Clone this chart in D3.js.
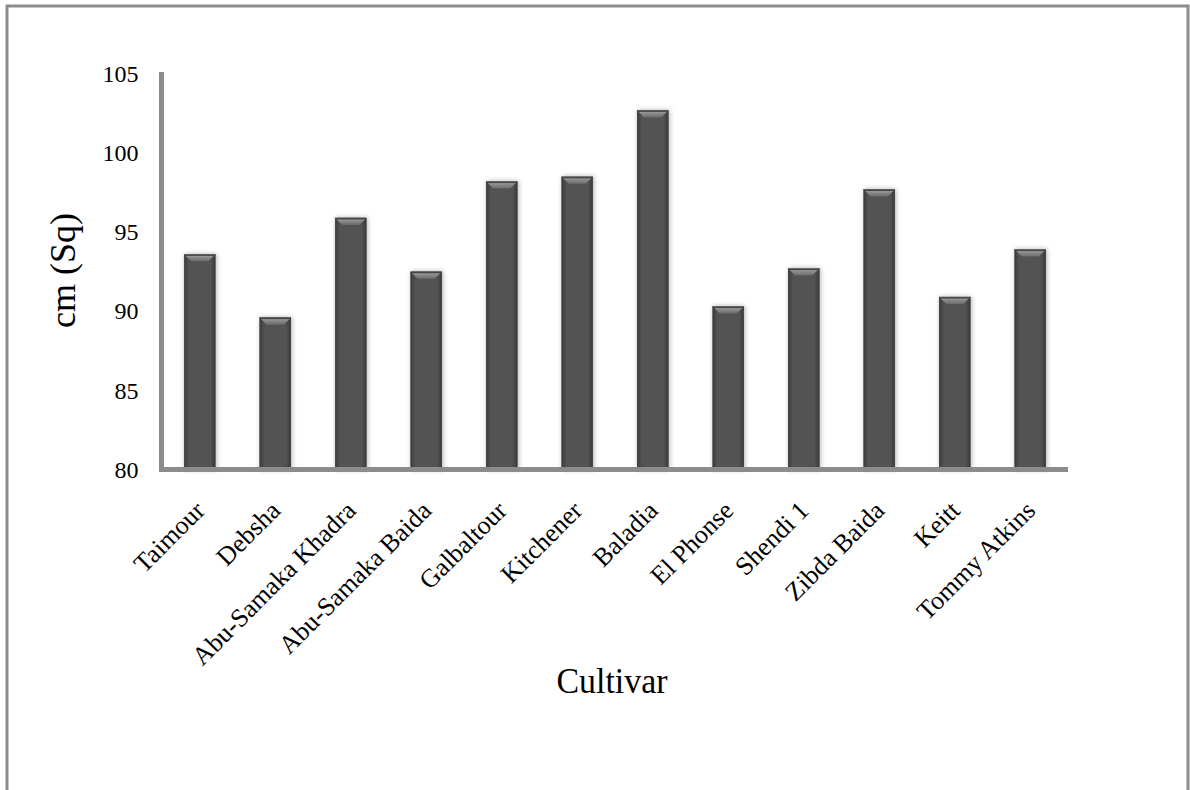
<!DOCTYPE html>
<html>
<head>
<meta charset="utf-8">
<script src="https://cdn.jsdelivr.net/npm/d3@7"></script>
<style>
  body { margin: 0; background: #fff; }
  svg { display: block; }
  text { font-family: "Liberation Serif", "Times New Roman", serif; fill: #000; }
</style>
</head>
<body>
<div id="chart"></div>
<script>
const cultivars = ['Taimour', 'Debsha', 'Abu-Samaka Khadra', 'Abu-Samaka Baida', 'Galbaltour', 'Kitchener',
  'Baladia', 'El Phonse', 'Shendi 1', 'Zibda Baida', 'Keitt', 'Tommy Atkins'];
const areaValues = [93.6, 89.6, 95.9, 92.5, 98.2, 98.5, 102.7, 90.3, 92.7, 97.7, 90.9, 93.9];
const yTicks = [80, 85, 90, 95, 100, 105];

const W = 1190, H = 790;
const svg = d3.select('#chart').append('svg').attr('width', W).attr('height', H);

// outer frame (bottom edge falls outside the picture)
svg.append('rect')
  .attr('x', 7).attr('y', 6).attr('width', 1181).attr('height', 800)
  .attr('fill', 'none').attr('stroke', '#8c8c8c').attr('stroke-width', 3);

const defs = svg.append('defs');
const body = defs.append('linearGradient').attr('id', 'barBody').attr('x1', 0).attr('x2', 1).attr('y1', 0).attr('y2', 0);
body.append('stop').attr('offset', '0%').attr('stop-color', '#3c3c3c');
body.append('stop').attr('offset', '15%').attr('stop-color', '#535353');
body.append('stop').attr('offset', '85%').attr('stop-color', '#535353');
body.append('stop').attr('offset', '100%').attr('stop-color', '#3a3a3a');
const bevel = defs.append('linearGradient').attr('id', 'barBevel').attr('x1', 0).attr('x2', 0).attr('y1', 0).attr('y2', 1);
bevel.append('stop').attr('offset', '0%').attr('stop-color', '#a4a4a4');
bevel.append('stop').attr('offset', '100%').attr('stop-color', '#6a6a6a');
const shadow = defs.append('filter').attr('id', 'shadow').attr('x', '-30%').attr('y', '-10%').attr('width', '160%').attr('height', '120%');
shadow.append('feDropShadow').attr('dx', 1).attr('dy', 0).attr('stdDeviation', 2.5).attr('flood-color', '#000').attr('flood-opacity', 0.3);

const x = d3.scaleBand().domain(cultivars).range([162, 1068]).paddingInner(0.59).paddingOuter(0.295);
const y = d3.scaleLinear().domain([80, 105]).range([469.5, 74]);

// bars
const bars = svg.append('g').selectAll('g').data(cultivars).join('g')
  .attr('filter', 'url(#shadow)');
bars.append('rect')
  .attr('x', d => x(d))
  .attr('y', (d, i) => y(areaValues[i]))
  .attr('width', x.bandwidth())
  .attr('height', (d, i) => y(80) - y(areaValues[i]))
  .attr('fill', 'url(#barBody)')
  .attr('stroke', '#333').attr('stroke-width', 0.6);
bars.append('path')
  .attr('d', (d, i) => {
    const x0 = x(d), w = x.bandwidth(), t = y(areaValues[i]), b = 7;
    return `M${x0},${t} L${x0 + w},${t} L${x0 + w - b},${t + b} L${x0 + b},${t + b} Z`;
  })
  .attr('fill', 'url(#barBevel)');
bars.append('rect')
  .attr('x', d => x(d))
  .attr('y', (d, i) => y(areaValues[i]))
  .attr('width', x.bandwidth())
  .attr('height', 1.5)
  .attr('fill', '#444');

// y axis
const yAxis = svg.append('g').attr('transform', 'translate(161.5,0)')
  .call(d3.axisLeft(y).tickValues(yTicks).tickSize(0).tickPadding(23).tickFormat(d3.format('d')));
yAxis.select('.domain').remove();
yAxis.attr('font-family', null);
yAxis.selectAll('text').attr('font-size', 24);
svg.append('line').attr('x1', 161.5).attr('x2', 161.5).attr('y1', 72).attr('y2', 472)
  .attr('stroke', '#8c8c8c').attr('stroke-width', 5);

// x axis
const xAxis = svg.append('g').attr('transform', 'translate(0,469.5)')
  .call(d3.axisBottom(x).tickSize(0).tickFormat(d => d));
xAxis.select('.domain').remove();
xAxis.attr('font-family', null);
xAxis.selectAll('text')
  .attr('font-size', 26)
  .attr('text-anchor', 'end')
  .attr('dy', '0.35em')
  .attr('transform', 'translate(-2,34) rotate(-45)');
svg.append('line').attr('x1', 159).attr('x2', 1068).attr('y1', 469.5).attr('y2', 469.5)
  .attr('stroke', '#8c8c8c').attr('stroke-width', 5);

// titles
svg.append('text').attr('x', 612).attr('y', 693).attr('text-anchor', 'middle')
  .attr('font-size', 36).attr('textLength', 111).attr('lengthAdjust', 'spacingAndGlyphs').text('Cultivar');
svg.append('text').attr('transform', 'translate(75,270.5) rotate(-90)').attr('text-anchor', 'middle')
  .attr('font-size', 36).text('cm (Sq)');
</script>
</body>
</html>
